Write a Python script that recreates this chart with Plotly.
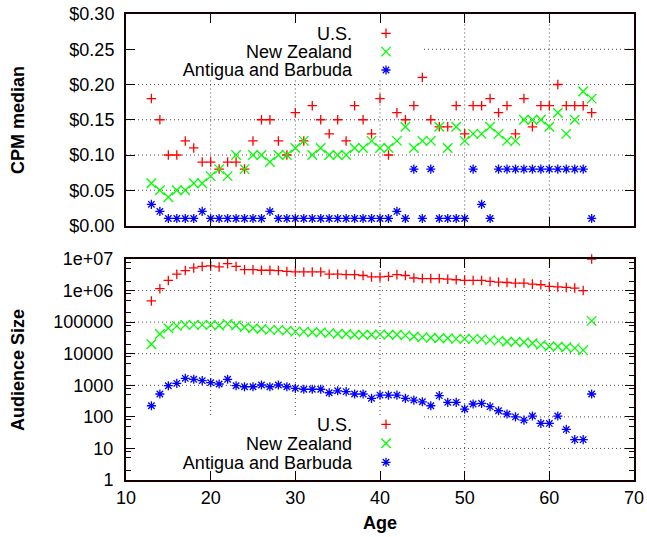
import plotly.graph_objects as go

# ---------------- data ----------------
ages = [13, 14, 15, 16, 17, 18, 19, 20, 21, 22, 23, 24, 25, 26, 27, 28, 29, 30,
        31, 32, 33, 34, 35, 36, 37, 38, 39, 40, 41, 42, 43, 44, 45, 46, 47, 48,
        49, 50, 51, 52, 53, 54, 55, 56, 57, 58, 59, 60, 61, 62, 63, 64, 65]

cpm_us = [0.18, 0.15, 0.10, 0.10, 0.12, 0.11, 0.09, 0.09, 0.08, 0.09, 0.09, 0.08,
          0.12, 0.15, 0.15, 0.12, 0.10, 0.16, 0.12, 0.17, 0.15, 0.13, 0.15, 0.12,
          0.17, 0.15, 0.13, 0.18, 0.10, 0.16, 0.15, 0.17, 0.21, 0.15, 0.14, 0.14,
          0.17, 0.13, 0.17, 0.17, 0.18, 0.16, 0.17, 0.13, 0.18, 0.14, 0.17, 0.17,
          0.20, 0.17, 0.17, 0.17, 0.16]
cpm_nz = [0.06, 0.05, 0.04, 0.05, 0.05, 0.06, 0.06, 0.07, 0.08, 0.07, 0.10, 0.08,
          0.10, 0.10, 0.09, 0.10, 0.10, 0.11, 0.12, 0.10, 0.11, 0.10, 0.10, 0.10,
          0.11, 0.11, 0.12, 0.11, 0.11, 0.12, 0.14, 0.11, 0.12, 0.12, 0.14, 0.11,
          0.14, 0.12, 0.13, 0.13, 0.14, 0.13, 0.12, 0.12, 0.15, 0.15, 0.15, 0.14,
          0.16, 0.13, 0.15, 0.19, 0.18]
cpm_ag = [0.03, 0.02, 0.01, 0.01, 0.01, 0.01, 0.02, 0.01, 0.01, 0.01, 0.01, 0.01,
          0.01, 0.01, 0.02, 0.01, 0.01, 0.01, 0.01, 0.01, 0.01, 0.01, 0.01, 0.01,
          0.01, 0.01, 0.01, 0.01, 0.01, 0.02, 0.01, 0.08, 0.01, 0.08, 0.01, 0.01,
          0.01, 0.01, 0.08, 0.03, 0.01, 0.08, 0.08, 0.08, 0.08, 0.08, 0.08, 0.08,
          0.08, 0.08, 0.08, 0.08, 0.01]

aud_us = [4.7e5, 1.15e6, 2.1e6, 3.3e6, 4.3e6, 5.2e6, 5.8e6, 6.1e6, 5.6e6, 7.1e6,
          5.8e6, 4.6e6, 4.6e6, 4.4e6, 4.4e6, 4.3e6, 4.05e6, 3.9e6, 3.9e6, 3.9e6,
          3.9e6, 3.3e6, 3.3e6, 3.2e6, 3.2e6, 3.0e6, 2.7e6, 2.7e6, 2.8e6, 3.2e6,
          3.0e6, 2.5e6, 2.4e6, 2.4e6, 2.4e6, 2.3e6, 2.2e6, 2.1e6, 2.1e6, 2.1e6,
          1.95e6, 1.86e6, 1.8e6, 1.73e6, 1.73e6, 1.6e6, 1.53e6, 1.35e6, 1.3e6,
          1.26e6, 1.2e6, 1.0e6, 1.0e7]
aud_nz = [2.0e4, 4.2e4, 6.4e4, 7.6e4, 8.2e4, 8.2e4, 8.2e4, 8.2e4, 7.8e4, 8.8e4,
          7.8e4, 6.9e4, 6.4e4, 6.1e4, 5.7e4, 5.7e4, 5.4e4, 5.0e4, 5.0e4, 4.8e4,
          4.8e4, 4.5e4, 4.3e4, 4.2e4, 4.0e4, 4.0e4, 4.0e4, 4.1e4, 4.0e4, 4.0e4,
          3.8e4, 3.5e4, 3.3e4, 3.2e4, 3.1e4, 3.1e4, 2.95e4, 2.95e4, 2.95e4, 2.9e4,
          2.7e4, 2.6e4, 2.4e4, 2.4e4, 2.3e4, 2.15e4, 1.9e4, 1.7e4, 1.7e4, 1.6e4,
          1.5e4, 1.3e4, 1.1e5]
aud_ag = [225, 530, 970, 1150, 1660, 1550, 1400, 1210, 1100, 1550, 970, 900, 900,
          1020, 900, 1020, 900, 800, 750, 750, 750, 580, 670, 630, 530, 530, 386,
          490, 490, 490, 386, 340, 300, 225, 470, 288, 288, 177, 255, 268, 210,
          156, 123, 100, 79, 106, 62, 62, 106, 40, 19, 19, 530]

series_names = ["U.S.", "New Zealand", "Antigua and Barbuda"]
series_colors = ["#ff0000", "#00ff00", "#0000ff"]
series_symbols = ["cross-thin", "x-thin", "asterisk"]
series_sizes = [6.8, 9.5, 7.6]

age_ticks = [10, 20, 30, 40, 50, 60, 70]
cpm_ticks = [0.00, 0.05, 0.10, 0.15, 0.20, 0.25, 0.30]
cpm_ticktext = ["$0.00", "$0.05", "$0.10", "$0.15", "$0.20", "$0.25", "$0.30"]
aud_tickvals = [1, 10, 100, 1000, 10000, 100000, 1000000, 10000000]
aud_ticktext = ["1", "10", "100", "1000", "10000", "100000", "1e+06", "1e+07"]
aud_minor_digits = [2, 5, 8]

# ---------------- layout geometry ----------------
W, H = 647, 537
L, R, T, B = 126, 13, 14, 57
PW, PH = W - L - R, H - T - B
TOP_BOTTOM_PX, BOT_TOP_PX = 225.5, 259.0
KEY_RIGHT_PX = 424        # right edge of the key areas (grid hidden there)
TOP_KEY_BOTTOM_PX = 80
BOT_KEY_TOP_PX = 415

FRAME_COLOR = "#140000"   # near-black
GRID_COLOR = "#5a4646"    # dark grey dots


def py(px):
    return (H - B - px) / PH


def pxx(px):
    return (px - L) / PW


def age_at(px):
    return age_ticks[0] + (px - L) / PW * (age_ticks[-1] - age_ticks[0])


FONT = "Liberation Sans, Arial, Helvetica, sans-serif"
TICKFONT = dict(family=FONT, size=18, color="black")

fig = go.Figure()

cpm_series = [cpm_us, cpm_nz, cpm_ag]
aud_series = [aud_us, aud_nz, aud_ag]


def marker(sym, sz, col):
    return dict(symbol=sym, size=sz, color=col, line=dict(width=1.3, color=col))


for name, col, sym, sz, vals in zip(series_names, series_colors, series_symbols,
                                    series_sizes, cpm_series):
    fig.add_trace(go.Scatter(x=ages, y=vals, mode="markers", name=name,
                             showlegend=False, xaxis="x", yaxis="y",
                             cliponaxis=False, marker=marker(sym, sz, col)))
for name, col, sym, sz, vals in zip(series_names, series_colors, series_symbols,
                                    series_sizes, aud_series):
    fig.add_trace(go.Scatter(x=ages, y=vals, mode="markers", name=name,
                             showlegend=False, xaxis="x2", yaxis="y2",
                             cliponaxis=False, marker=marker(sym, sz, col)))

# legend keys (gnuplot style: text on the left, symbol on the right)
for xa, ya in (("x3", "y3"), ("x4", "y4")):
    for name, col, sym, sz in zip(series_names, series_colors, series_symbols,
                                  series_sizes):
        fig.add_trace(go.Scatter(x=[0.5], y=[name], mode="markers",
                                 showlegend=False, hoverinfo="skip",
                                 xaxis=xa, yaxis=ya, marker=marker(sym, sz, col)))

axis_common = dict(showline=True, linewidth=2, linecolor=FRAME_COLOR,
                   mirror="ticks", ticks="inside", ticklen=9, tickwidth=1.3,
                   tickcolor=FRAME_COLOR, showgrid=False, zeroline=False,
                   tickfont=TICKFONT, automargin=False)

top_dom = [py(TOP_BOTTOM_PX), 1.0]
bot_dom = [0.0, py(BOT_TOP_PX)]

minor_vals = [d * 10 ** k for k in range(0, len(aud_tickvals) - 1)
              for d in aud_minor_digits]

legend_axis = dict(showline=False, showgrid=False, zeroline=False, ticks="",
                   fixedrange=True, automargin=False)
cat_order = list(reversed(series_names))
key_dom_x = [pxx(353), pxx(419)]

fig.update_layout(
    template="none",
    width=W, height=H,
    margin=dict(l=L, r=R, t=T, b=B, pad=0, autoexpand=False),
    paper_bgcolor="white", plot_bgcolor="rgba(0,0,0,0)",
    showlegend=False,
    xaxis=dict(axis_common, domain=[0, 1], range=[10, 70], tickmode="array",
               tickvals=age_ticks, showticklabels=False, anchor="y"),
    yaxis=dict(axis_common, domain=top_dom, range=[0, 0.30], tickmode="array",
               tickvals=cpm_ticks, ticktext=cpm_ticktext, anchor="x",
               ticklabelstandoff=6),
    xaxis2=dict(axis_common, domain=[0, 1], range=[10, 70], tickmode="array",
                tickvals=age_ticks, anchor="y2", ticklabelstandoff=0),
    yaxis2=dict(axis_common, domain=bot_dom, type="log", range=[0, 7],
                tickmode="array", tickvals=aud_tickvals, ticktext=aud_ticktext,
                anchor="x2", ticklabelstandoff=7,
                minor=dict(tickmode="array", tickvals=minor_vals, ticks="inside",
                           ticklen=5, tickcolor=FRAME_COLOR, tickwidth=1.2,
                           showgrid=False)),
    xaxis3=dict(legend_axis, domain=key_dom_x, range=[0, 1],
                showticklabels=False, anchor="y3"),
    yaxis3=dict(legend_axis, domain=[py(79.2), py(24.1)], type="category",
                categoryorder="array", categoryarray=cat_order,
                tickmode="array", tickvals=cat_order,
                range=[-0.5, 2.5], anchor="x3", tickfont=TICKFONT,
                ticklabelstandoff=0),
    xaxis4=dict(legend_axis, domain=key_dom_x, range=[0, 1],
                showticklabels=False, anchor="y4"),
    yaxis4=dict(legend_axis, domain=[py(471.8), py(414.8)], type="category",
                categoryorder="array", categoryarray=cat_order,
                tickmode="array", tickvals=cat_order,
                range=[-0.5, 2.5], anchor="x4", tickfont=TICKFONT,
                ticklabelstandoff=0),
)

# ---------------- dotted grid, interrupted behind the keys ----------------
grid_line = dict(color=GRID_COLOR, width=1, dash="1px,3px")
key_age = age_at(KEY_RIGHT_PX)
top_key_y = (TOP_BOTTOM_PX - TOP_KEY_BOTTOM_PX) / (TOP_BOTTOM_PX - T) * cpm_ticks[-1]
bot_key_y = 10 ** ((H - B - BOT_KEY_TOP_PX) / (H - B - BOT_TOP_PX)
                   * (len(aud_tickvals) - 1))

for v in cpm_ticks[1:-1]:
    x0 = key_age if v > top_key_y else age_ticks[0]
    fig.add_shape(type="line", xref="x", yref="y", x0=x0, x1=age_ticks[-1],
                  y0=v, y1=v, line=grid_line, layer="below")
for a in age_ticks[1:-1]:
    y1 = top_key_y if a < key_age else cpm_ticks[-1]
    fig.add_shape(type="line", xref="x", yref="y", x0=a, x1=a,
                  y0=cpm_ticks[0], y1=y1, line=grid_line, layer="below")
for v in aud_tickvals[1:-1]:
    x0 = key_age if v < bot_key_y else age_ticks[0]
    fig.add_shape(type="line", xref="x2", yref="y2", x0=x0, x1=age_ticks[-1],
                  y0=v, y1=v, line=grid_line, layer="below")
for a in age_ticks[1:-1]:
    y0 = bot_key_y if a < key_age else aud_tickvals[0]
    fig.add_shape(type="line", xref="x2", yref="y2", x0=a, x1=a,
                  y0=y0, y1=aud_tickvals[-1], line=grid_line, layer="below")

title_font = dict(family=FONT, size=18, color="black")
fig.add_annotation(text="<b>CPM median</b>", xref="paper", yref="paper",
                   x=pxx(18), y=py(120), textangle=-90, showarrow=False,
                   font=title_font, xanchor="center", yanchor="middle")
fig.add_annotation(text="<b>Audience Size</b>", xref="paper", yref="paper",
                   x=pxx(18), y=py(370), textangle=-90, showarrow=False,
                   font=title_font, xanchor="center", yanchor="middle")
fig.add_annotation(text="<b>Age</b>", xref="paper", yref="paper",
                   x=pxx(380), y=py(523), showarrow=False,
                   font=title_font, xanchor="center", yanchor="middle")

fig.write_html("out.html", config={"displayModeBar": False},
               post_script="document.body.style.margin='0';"
                           "document.body.style.padding='0';")
